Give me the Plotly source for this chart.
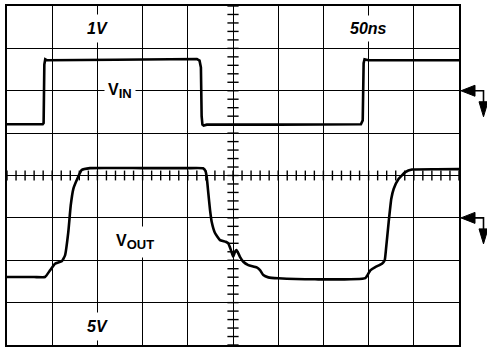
import numpy as np
import plotly.graph_objects as go

# Scope settings
TIME_PER_DIV = 50        # ns / division
VIN_PER_DIV = 1          # V / division (channel 1)
VOUT_PER_DIV = 5         # V / division (channel 2)
H_DIVS = 10
V_DIVS = 8
VIN_GND_DIV = 6          # channel-1 ground marker, divisions above bottom
VOUT_GND_DIV = 3         # channel-2 ground marker, divisions above bottom

scale_labels = ["1V", "5V", "50ns"]

# Channel 1: input pulse (ns, V)
vin_t = [0, 39.5, 40.5, 41.3, 42.3, 44.0, 120, 205, 210, 213, 214.5, 215.3, 216.2,
         217.5, 221, 300, 388, 391.5, 393.5, 394.5, 395.5, 397, 400, 450, 500]
vin_v = [-0.79, -0.79, -0.76, 0.62, 0.74, 0.72, 0.73, 0.75, 0.75, 0.71, 0.55,
         -0.60, -0.80, -0.82, -0.80, -0.80, -0.80, -0.79, -0.70, 0.65, 0.74,
         0.73, 0.72, 0.72, 0.72]

# Channel 2: output response (ns, V)
vout_t = [0, 30, 42.0, 47.6, 53.1, 60.5, 64.2, 67.8, 70.5, 73.4, 77.8, 82.6, 91.8,
          150, 200, 216.8, 219.6, 220.9, 222.7, 224.6, 226.4, 230.1, 235.6, 241.9,
          244.8, 247.7, 250.3, 252.2, 254.0, 257.7, 261.4, 266.9, 276.2, 279.9,
          283.5, 289.1, 300.1, 340.7, 396.4, 401.9, 407.4, 414.8, 417.8, 419.3,
          422.2, 425.1, 427.8, 433.3, 440.6, 448.0, 475, 500]
vout_v = [-6.98, -6.98, -6.98, -6.19, -5.41, -5.13, -4.42, -1.68, 1.47, 3.43,
          4.61, 5.64, 5.87, 5.87, 5.87, 5.85, 5.52, 4.85, 2.92, 0.92, -0.46,
          -1.79, -2.62, -2.82, -3.01, -3.80, -4.59, -4.00, -3.80, -4.59, -5.18,
          -5.57, -5.84, -6.16, -6.75, -7.02, -7.13, -7.25, -7.10, -6.19, -5.80,
          -5.41, -5.01, -3.64, -0.50, 2.25, 3.43, 4.61, 5.40, 5.70, 5.74, 5.75]

W, H = 487, 347
ML, MR, MT, MB = 7, 28, 6, 2
PW, PH = W - ML - MR, H - MT - MB

x_range = [0, TIME_PER_DIV * H_DIVS]
y1_range = [-VIN_GND_DIV * VIN_PER_DIV, (V_DIVS - VIN_GND_DIV) * VIN_PER_DIV]
y2_range = [-VOUT_GND_DIV * VOUT_PER_DIV, (V_DIVS - VOUT_GND_DIV) * VOUT_PER_DIV]

FONT = "Liberation Sans, Arial, Helvetica, sans-serif"
INK = "black"


def paper_y(pix):
    """Page pixel row -> paper fraction."""
    return (H - MB - pix) / PH


fig = go.Figure()

# Minor graticule ticks along the centre cross
x_mid = x_range[1] / 2
y_mid = (y1_range[0] + y1_range[1]) / 2
minor_y = np.arange(y1_range[0], y1_range[1] + 1e-9, VIN_PER_DIV / 5)
minor_x = np.arange(x_range[0], x_range[1] + 1e-9, TIME_PER_DIV / 5)
fig.add_trace(go.Scatter(
    x=[x_mid] * len(minor_y), y=minor_y, mode="markers", hoverinfo="skip",
    marker=dict(symbol="line-ew", size=8, line=dict(width=1.4, color=INK)),
    showlegend=False))
fig.add_trace(go.Scatter(
    x=minor_x, y=[y_mid] * len(minor_x), mode="markers", hoverinfo="skip",
    marker=dict(symbol="line-ns", size=7, line=dict(width=1.4, color=INK)),
    showlegend=False))

fig.add_trace(go.Scatter(x=vin_t, y=vin_v, mode="lines", name="VIN",
                         line=dict(color=INK, width=2.6), showlegend=False))
fig.add_trace(go.Scatter(x=vout_t, y=vout_v, mode="lines", name="VOUT", yaxis="y2",
                         line=dict(color=INK, width=2.6, shape="spline", smoothing=0.4),
                         showlegend=False))

axis_common = dict(showgrid=True, gridcolor=INK, gridwidth=1.4, zeroline=False,
                   showticklabels=False, ticks="", showline=True, linecolor=INK,
                   linewidth=2.4, mirror=True, fixedrange=True)

fig.update_layout(
    width=W, height=H,
    margin=dict(l=ML, r=MR, t=MT, b=MB, pad=0),
    paper_bgcolor="white", plot_bgcolor="white",
    xaxis=dict(range=x_range, dtick=TIME_PER_DIV, **axis_common),
    yaxis=dict(range=y1_range, dtick=VIN_PER_DIV, **axis_common),
    yaxis2=dict(range=y2_range, overlaying="y", visible=False, fixedrange=True),
)

ann = dict(showarrow=False, bgcolor="white", xanchor="center", yanchor="middle",
           font=dict(family=FONT, size=16, color=INK))

fig.add_annotation(x=2 * TIME_PER_DIV, y=paper_y(29), xref="x", yref="paper",
                   text=f"<b><i>{scale_labels[0]}</i></b>", borderpad=5, **ann)
fig.add_annotation(x=2 * TIME_PER_DIV, y=paper_y(326), xref="x", yref="paper",
                   text=f"<b><i>{scale_labels[1]}</i></b>", borderpad=5, **ann)
fig.add_annotation(x=8 * TIME_PER_DIV, y=paper_y(29), xref="x", yref="paper",
                   text=f"<b><i>{scale_labels[2]}</i></b>", borderpad=4, **ann)
fig.add_annotation(x=125, y=0, xref="x", yref="y",
                   text='<b>V<sub><span style="font-size:13px">IN</span></sub></b>',
                   borderpad=3, **ann)
fig.add_annotation(x=142, y=-2.8, xref="x", yref="y2",
                   text='<b>V<sub><span style="font-size:13px">OUT</span></sub></b>',
                   borderpad=5, **ann)


def ground_marker(level_frac):
    """Channel ground arrow drawn just right of the graticule."""
    def px(dx):
        return 1 + dx / PW

    def py(dy):
        return level_frac - dy / PH

    tri_left = (f"M {px(2)} {py(0)} L {px(16)} {py(-5.5)} L {px(16)} {py(5.5)} Z")
    tri_down = (f"M {px(20)} {py(11)} L {px(29)} {py(11)} L {px(24.5)} {py(26)} Z")
    stem = (f"M {px(16)} {py(0)} L {px(24.5)} {py(0)} L {px(24.5)} {py(12)}")
    fig.add_shape(type="path", path=tri_left, xref="paper", yref="paper",
                  fillcolor=INK, line=dict(color=INK, width=1))
    fig.add_shape(type="path", path=tri_down, xref="paper", yref="paper",
                  fillcolor=INK, line=dict(color=INK, width=1))
    fig.add_shape(type="path", path=stem, xref="paper", yref="paper",
                  line=dict(color=INK, width=1.6))


ground_marker((0 - y1_range[0]) / (y1_range[1] - y1_range[0]))
ground_marker((0 - y2_range[0]) / (y2_range[1] - y2_range[0]))

fig.write_html("out.html")
